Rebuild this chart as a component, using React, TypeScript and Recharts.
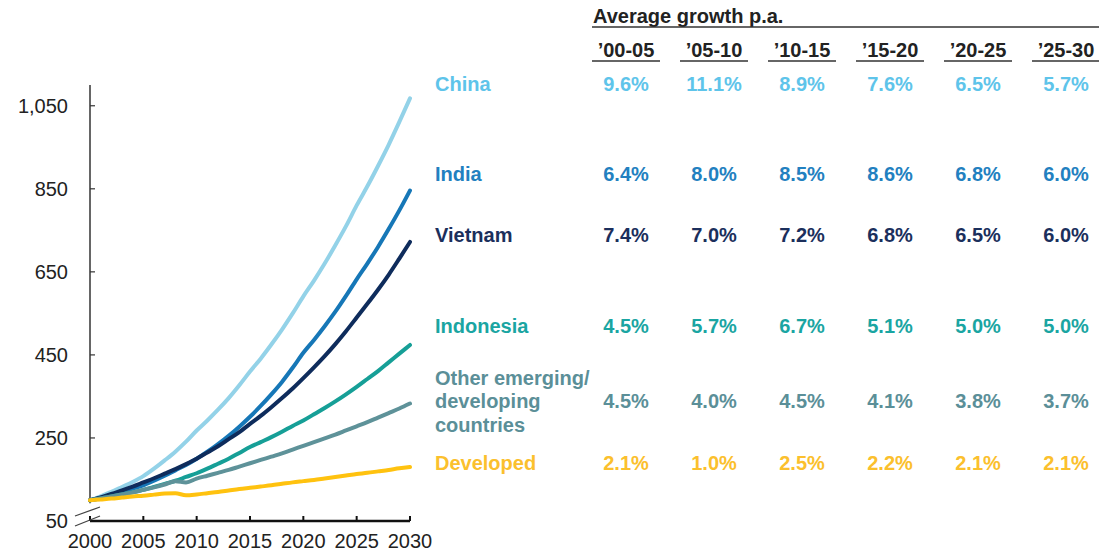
import React from "react";
import { LineChart, Line, XAxis, YAxis, ReferenceLine } from "recharts";

const FONT = '"Liberation Sans", Arial, Helvetica, sans-serif';

const years = [
  2000, 2001, 2002, 2003, 2004, 2005, 2006, 2007, 2008, 2009, 2010, 2011, 2012, 2013, 2014, 2015,
  2016, 2017, 2018, 2019, 2020, 2021, 2022, 2023, 2024, 2025, 2026, 2027, 2028, 2029, 2030,
];
const china = [
  100, 109.6, 120, 132, 144, 158, 176, 196, 217, 241, 268, 292, 318, 346, 377, 410,
  441, 475, 511, 550, 591, 629, 670, 714, 760, 810, 856, 905, 956, 1011, 1068,
];
const india = [
  100, 106, 113, 120, 128, 136, 147, 159, 172, 185, 200, 217, 235, 255, 277, 301,
  327, 355, 385, 419, 455, 486, 519, 554, 592, 632, 670, 710, 753, 798, 846,
];
const vietnam = [
  100, 107, 115, 124, 133, 143, 153, 164, 175, 187, 200, 215, 230, 247, 264, 284,
  303, 324, 346, 369, 394, 420, 447, 476, 507, 540, 573, 607, 643, 682, 722,
];
const indonesia = [
  100, 104.5, 109, 114, 119, 125, 132, 139.5, 147, 156, 165, 176, 188, 200, 214, 228,
  240, 252, 265, 279, 292, 307, 322, 338, 355, 373, 392, 411, 432, 453, 474,
];
const other = [
  100, 104.5, 109, 114, 119, 125, 131, 138, 146, 143, 152, 159, 166, 173, 181, 189,
  197, 205, 213, 222, 231, 240, 249, 258, 268, 278, 288, 299, 310, 321, 333,
];
const developed = [
  100, 102, 104, 106.5, 109, 111, 113.5, 116, 117, 112, 114, 117, 120, 123.5, 127, 130,
  133, 136, 139.5, 143, 146, 149, 152.5, 156, 159.5, 163, 166, 169.5, 173, 177, 180,
];

const xTicks = [2000, 2005, 2010, 2015, 2020, 2025, 2030];
const yTicks = [50, 250, 450, 650, 850, 1050];

const periods = ["’00-05", "’05-10", "’10-15", "’15-20", "’20-25", "’25-30"];
const chinaGrowth = ["9.6%", "11.1%", "8.9%", "7.6%", "6.5%", "5.7%"];
const indiaGrowth = ["6.4%", "8.0%", "8.5%", "8.6%", "6.8%", "6.0%"];
const vietnamGrowth = ["7.4%", "7.0%", "7.2%", "6.8%", "6.5%", "6.0%"];
const indonesiaGrowth = ["4.5%", "5.7%", "6.7%", "5.1%", "5.0%", "5.0%"];
const otherGrowth = ["4.5%", "4.0%", "4.5%", "4.1%", "3.8%", "3.7%"];
const developedGrowth = ["2.1%", "1.0%", "2.5%", "2.2%", "2.1%", "2.1%"];

const data = years.map((year, i) => ({
  year,
  china: china[i],
  india: india[i],
  vietnam: vietnam[i],
  indonesia: indonesia[i],
  other: other[i],
  developed: developed[i],
}));

const series = [
  { key: "china", line: "#93d2e8", text: "#5ec4ea", label: ["China"], y: 84, growth: chinaGrowth },
  { key: "india", line: "#1677b7", text: "#2280c0", label: ["India"], y: 174, growth: indiaGrowth },
  { key: "vietnam", line: "#0e2c5c", text: "#1b2f5c", label: ["Vietnam"], y: 235, growth: vietnamGrowth },
  { key: "indonesia", line: "#169f97", text: "#1aa5a2", label: ["Indonesia"], y: 326, growth: indonesiaGrowth },
  { key: "other", line: "#5e9299", text: "#5b8f98", label: ["Other emerging/", "developing", "countries"], y: 401, growth: otherGrowth },
  { key: "developed", line: "#ffc20f", text: "#fbc02d", label: ["Developed"], y: 463, growth: developedGrowth },
];

const colCenter = (i: number) => 626 + 88 * i;

function XTick(props: any) {
  const { x, y, payload } = props;
  return (
    <g>
      <line x1={x} x2={x} y1={y} y2={y - 5} stroke="#111" strokeWidth={2} />
      <text x={x} y={y + 27} textAnchor="middle" fontSize={20} fill="#222" fontFamily={FONT}>
        {payload.value}
      </text>
    </g>
  );
}

function YTick(props: any) {
  const { x, y, payload } = props;
  return (
    <g>
      {payload.value !== 50 && <line x1={x} x2={x + 5} y1={y} y2={y} stroke="#333" strokeWidth={1.2} />}
      <text x={x - 22} y={y + 7} textAnchor="end" fontSize={20} fill="#222" fontFamily={FONT}>
        {payload.value.toLocaleString("en-US")}
      </text>
    </g>
  );
}

export default function App() {
  return (
    <div style={{ position: "absolute", left: 0, top: 0, width: 1099, height: 552, background: "#fff", fontFamily: FONT }}>
      <LineChart width={440} height={552} data={data} margin={{ top: 85, right: 30, bottom: 0, left: 30 }}>
        <XAxis
          dataKey="year"
          type="number"
          domain={[2000, 2030]}
          ticks={xTicks}
          height={31}
          tickSize={0}
          tickMargin={0}
          tickLine={false}
          axisLine={{ stroke: "#111", strokeWidth: 2.5 }}
          tick={<XTick />}
          interval={0}
        />
        <YAxis
          type="number"
          domain={[50, 1100]}
          ticks={yTicks}
          width={60}
          tickSize={0}
          tickMargin={0}
          tickLine={false}
          axisLine={false}
          tick={<YTick />}
          interval={0}
        />
        <ReferenceLine
          segment={[{ x: 2000, y: 1100 }, { x: 2000, y: 93 }]}
          stroke="#333"
          strokeWidth={1.5}
          ifOverflow="visible"
        />
        {series.map((s) => (
          <Line
            key={s.key}
            dataKey={s.key}
            type="monotone"
            stroke={s.line}
            strokeWidth={4}
            strokeLinecap="round"
            dot={false}
            isAnimationActive={false}
          />
        ))}
      </LineChart>
      <svg width={1099} height={552} style={{ position: "absolute", left: 0, top: 0, pointerEvents: "none" }}>
        {/* axis break */}
        <line x1={75} y1={516} x2={100} y2={507} stroke="#444" strokeWidth={1.3} />
        <line x1={75} y1={526} x2={100} y2={516} stroke="#444" strokeWidth={1.3} />

        <text x={593} y={23} fontSize={20} fontWeight="bold" fill="#222" fontFamily={FONT}>
          Average growth p.a.
        </text>
        <line x1={592} x2={1099} y1={27} y2={27} stroke="#333" strokeWidth={1.5} />
        {periods.map((p, i) => (
          <g key={p}>
            <text x={colCenter(i)} y={57} textAnchor="middle" fontSize={20} fontWeight="bold" fill="#222" fontFamily={FONT}>
              {p}
            </text>
            <line x1={colCenter(i) - 34} x2={colCenter(i) + 34} y1={61} y2={61} stroke="#333" strokeWidth={1.5} />
          </g>
        ))}

        {series.map((s) => (
          <g key={s.key} fill={s.text} fontFamily={FONT} fontSize={20} fontWeight="bold">
            {s.label.map((l, j) => (
              <text key={l} x={435} y={s.y + (j - (s.label.length - 1) / 2) * 23.5 + 7}>
                {l}
              </text>
            ))}
            {s.growth.map((g, i) => (
              <text key={i} x={colCenter(i)} y={s.y + 7} textAnchor="middle">
                {g}
              </text>
            ))}
          </g>
        ))}
      </svg>
    </div>
  );
}
